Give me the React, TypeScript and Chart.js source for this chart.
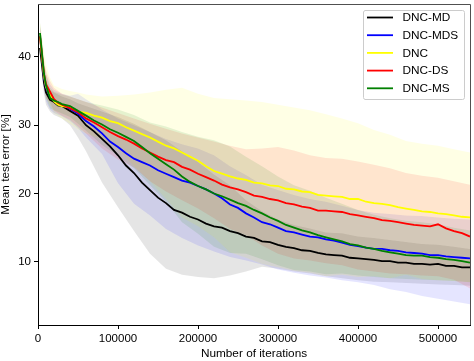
import React, { useEffect, useRef } from "react";
import { Chart, registerables } from "chart.js";

Chart.register(...registerables);

// x positions of the mean curves
const lineIters = [2500, 5000, 7500, 10000, 15000, 20000, 25000,
  30000, 40000, 50000, 60000, 70000, 80000, 90000, 100000, 110000, 120000, 130000, 140000,
  150000, 160000, 170000, 180000, 190000, 200000, 210000, 220000, 230000, 240000, 250000, 260000,
  270000, 280000, 290000, 300000, 310000, 320000, 330000, 340000, 350000, 360000, 370000, 380000,
  390000, 400000, 410000, 420000, 430000, 440000, 450000, 460000, 470000, 480000, 490000, 500000,
  510000, 520000, 530000, 540000];

// x positions of the shaded bands
const bandIters = [2500, 5000, 7500, 10000, 15000, 20000, 30000, 40000, 50000, 60000, 80000, 100000, 120000, 140000, 160000, 180000, 200000, 220000, 240000, 260000, 280000, 300000, 320000, 340000, 360000, 380000, 400000, 420000, 440000, 460000, 480000, 500000, 520000, 540000];

const xTicks = [0, 100000, 200000, 300000, 400000, 500000];
const yTicks = [10, 20, 30, 40];

const seriesNames = ["DNC-MD", "DNC-MDS", "DNC", "DNC-DS", "DNC-MS"];

// mean test error curves
const mdMean = [41.3, 38.8, 36.2, 34.8, 33.7, 33.4, 32.9,
  32.8, 32.1, 31.4, 30.0, 29.1, 28.0, 26.9, 25.6, 24.1, 23.0, 21.6, 20.5, 19.4, 18.6, 17.6, 17.2,
  16.6, 16.2, 15.6, 15.2, 15.0, 14.5, 14.2, 13.7, 13.5, 13.0, 12.9, 12.5, 12.2, 12.0, 11.7, 11.6,
  11.3, 11.1, 11.0, 10.9, 10.6, 10.5, 10.4, 10.3, 10.1, 10.1, 9.9, 9.9, 9.7, 9.7, 9.6, 9.7, 9.4, 9.4, 9.2, 9.2];
const mdsMean = [43.0, 40.0, 37.0, 35.5, 34.2, 33.6, 33.3,
  33.0, 32.4, 31.7, 30.6, 29.8, 28.8, 27.6, 26.8, 25.9, 25.1, 24.6, 24.1, 23.4, 22.9, 22.4, 21.9,
  21.6, 21.1, 20.6, 20.0, 19.3, 18.4, 17.9, 17.1, 16.5, 15.8, 15.5, 15.0, 14.5, 14.3, 14.0, 13.7,
  13.6, 13.3, 13.1, 12.8, 12.5, 12.3, 12.1, 11.9, 11.9, 11.7, 11.6, 11.4, 11.3, 11.2, 11.0, 11.0, 10.8, 10.7, 10.6, 10.5];
const dncMean = [43.0, 40.0, 37.2, 35.6, 34.4, 33.5, 33.0,
  32.8, 32.6, 32.0, 31.8, 31.4, 31.1, 30.6, 30.3, 29.7, 29.2, 28.7, 28.2, 27.6, 27.0, 26.6, 26.0,
  25.4, 24.8, 24.0, 23.3, 22.9, 22.5, 22.2, 22.0, 21.6, 21.5, 21.2, 21.1, 20.7, 20.6, 20.3, 20.2,
  19.8, 19.7, 19.6, 19.5, 19.2, 19.2, 18.8, 18.6, 18.5, 18.3, 18.0, 17.8, 17.6, 17.4, 17.3, 17.1, 17.0, 16.8, 16.6, 16.5];
const dsMean = [43.0, 40.2, 37.5, 36.0, 34.9, 33.8, 33.3,
  33.0, 32.5, 31.9, 31.0, 30.4, 29.7, 29.0, 28.4, 27.9, 27.3, 26.6, 26.0, 25.4, 24.9, 24.6, 23.9,
  23.5, 22.9, 22.4, 21.9, 21.3, 20.9, 20.6, 20.2, 19.7, 19.5, 19.2, 19.0, 18.6, 18.4, 18.1, 17.9,
  17.5, 17.5, 17.4, 17.3, 17.0, 16.8, 16.6, 16.4, 16.1, 16.0, 15.8, 15.6, 15.4, 15.3, 15.2, 15.5, 14.9, 14.5, 14.2, 13.7];
const msMean = [43.5, 40.5, 37.5, 35.8, 34.0, 33.6, 33.4,
  33.1, 32.8, 32.1, 31.4, 30.7, 30.1, 29.4, 28.9, 28.3, 27.7, 26.8, 25.9, 25.1, 24.3, 23.5, 22.5,
  21.7, 21.1, 20.6, 20.0, 19.6, 19.1, 18.6, 18.2, 17.6, 17.1, 16.5, 16.0, 15.4, 15.0, 14.6, 14.3,
  13.9, 13.6, 13.3, 13.0, 12.6, 12.4, 12.1, 11.9, 11.6, 11.4, 11.2, 11.0, 10.9, 10.9, 10.7, 10.6, 10.4, 10.3, 10.1, 9.9];

// shaded bands (lower / upper)
const mdLow = [40.5, 37.0, 34.5, 33.0, 32.0, 31.5, 31.0, 30.0, 28.2, 26.2, 21.6, 18.0, 14.5, 11.2, 9.0, 8.1, 7.8, 7.6, 8.0, 8.6, 9.3, 9.0, 8.6, 8.3, 7.9, 7.6, 7.3, 7.1, 7.0, 6.9, 6.8, 6.7, 6.6, 6.5];
const mdHigh = [43.0, 40.5, 38.0, 36.5, 35.2, 34.8, 34.2, 33.8, 33.2, 32.8, 32.0, 31.2, 30.2, 29.0, 27.8, 26.2, 24.6, 22.8, 21.2, 19.0, 17.4, 16.2, 15.4, 14.9, 14.3, 14.2, 13.7, 13.5, 13.2, 12.9, 12.6, 12.5, 12.2, 11.9];
const mdsLow = [41.0, 37.5, 35.0, 33.5, 32.3, 31.8, 31.3, 30.6, 29.6, 28.2, 25.8, 21.5, 18.5, 16.8, 14.8, 13.5, 12.4, 11.5, 10.7, 10.2, 9.6, 8.9, 8.4, 8.0, 7.7, 7.3, 7.0, 6.6, 6.0, 5.6, 5.0, 4.6, 4.2, 3.8];
const mdsHigh = [44.5, 42.0, 39.0, 37.5, 36.0, 35.2, 34.6, 34.3, 34.6, 33.8, 32.3, 31.0, 30.0, 29.0, 28.0, 27.2, 26.6, 25.6, 24.0, 22.7, 21.3, 20.5, 19.8, 19.2, 18.8, 18.2, 17.6, 17.2, 17.0, 16.8, 16.7, 16.5, 16.3, 16.2];
const dncLow = [41.5, 38.5, 35.5, 34.0, 32.8, 31.8, 31.0, 30.2, 29.4, 28.8, 28.0, 26.5, 24.0, 21.8, 19.2, 16.5, 15.2, 13.6, 11.4, 10.6, 9.7, 9.2, 8.7, 8.4, 7.9, 8.1, 7.8, 7.9, 7.6, 8.1, 7.5, 7.3, 7.2, 7.0];
const dncHigh = [45.0, 43.0, 41.0, 39.0, 37.0, 35.8, 35.3, 35.0, 34.8, 34.5, 34.2, 34.3, 34.5, 34.8, 35.2, 35.5, 34.6, 34.0, 33.8, 33.6, 33.4, 33.0, 32.6, 32.2, 31.6, 31.0, 30.3, 29.3, 28.6, 27.7, 27.3, 27.0, 26.5, 26.0];
const dsLow = [41.5, 38.5, 35.5, 34.0, 33.3, 32.1, 31.4, 30.8, 29.8, 28.8, 26.6, 25.0, 23.8, 21.8, 20.3, 19.0, 17.8, 16.4, 14.8, 13.9, 12.4, 11.2, 10.5, 10.2, 9.8, 9.5, 8.9, 8.6, 8.3, 8.2, 8.0, 7.9, 7.4, 6.1];
const dsHigh = [44.5, 42.0, 39.5, 38.0, 36.5, 35.5, 34.6, 34.2, 33.8, 33.4, 32.6, 31.8, 31.0, 30.2, 29.5, 28.8, 28.2, 27.6, 27.0, 26.5, 26.6, 26.8, 26.3, 25.6, 25.2, 25.1, 24.7, 24.2, 23.7, 23.0, 22.6, 22.3, 21.8, 21.3];
const msLow = [42.0, 38.5, 35.5, 34.0, 32.5, 32.2, 31.7, 31.2, 30.2, 29.2, 27.1, 25.5, 23.7, 21.2, 18.8, 15.8, 14.1, 12.2, 11.3, 11.2, 10.4, 9.5, 8.8, 8.6, 8.2, 8.3, 8.0, 7.8, 7.6, 7.5, 7.4, 7.3, 7.2, 7.0];
const msHigh = [45.0, 42.5, 39.5, 37.5, 35.5, 34.9, 34.5, 34.2, 33.8, 33.4, 32.9, 32.3, 31.5, 30.4, 29.8, 29.0, 28.3, 27.8, 26.9, 25.4, 24.0, 22.5, 21.2, 20.4, 19.4, 18.5, 17.6, 16.9, 16.4, 16.0, 15.8, 15.5, 15.0, 14.6];

const means = [mdMean, mdsMean, dncMean, dsMean, msMean];
const lows = [mdLow, mdsLow, dncLow, dsLow, msLow];
const highs = [mdHigh, mdsHigh, dncHigh, dsHigh, msHigh];
const lineColors = ["#000000", "#0000ff", "#ffff00", "#ff0000", "#008000"];
const bandColors = ["rgba(0,0,0,0.1)", "rgba(0,0,255,0.1)", "rgba(255,255,0,0.1)", "rgba(255,0,0,0.1)", "rgba(0,128,0,0.1)"];

const FONT = "'Liberation Sans', Arial, Helvetica, sans-serif";

const toPts = (xs: number[], arr: number[]) => xs.map((x, i) => ({ x, y: arr[i] }));

const decorPlugin = {
  id: "decor",
  afterDraw(chart: any) {
    const { ctx, chartArea: a } = chart;
    ctx.save();
    // top and right spines
    ctx.strokeStyle = "#505050";
    ctx.lineWidth = 1;
    ctx.beginPath();
    ctx.moveTo(a.left, a.top + 0.5);
    ctx.lineTo(a.right + 0.5, a.top + 0.5);
    ctx.lineTo(a.right + 0.5, a.bottom);
    ctx.stroke();

    // legend
    const lines = chart.data.datasets.filter((d: any) => d.isLine);
    const bx = a.right - 107;
    const by = a.top + 6;
    const bw = 101;
    const bh = 89;
    ctx.fillStyle = "rgba(255,255,255,0.8)";
    ctx.strokeStyle = "#cccccc";
    ctx.lineWidth = 1;
    ctx.beginPath();
    const r = 2;
    ctx.moveTo(bx + r, by + 0.5);
    ctx.lineTo(bx + bw - r, by + 0.5);
    ctx.arcTo(bx + bw + 0.5, by + 0.5, bx + bw + 0.5, by + r, r);
    ctx.lineTo(bx + bw + 0.5, by + bh - r);
    ctx.arcTo(bx + bw + 0.5, by + bh + 0.5, bx + bw - r, by + bh + 0.5, r);
    ctx.lineTo(bx + r, by + bh + 0.5);
    ctx.arcTo(bx + 0.5, by + bh + 0.5, bx + 0.5, by + bh - r, r);
    ctx.lineTo(bx + 0.5, by + r);
    ctx.arcTo(bx + 0.5, by + 0.5, bx + r, by + 0.5, r);
    ctx.closePath();
    ctx.fill();
    ctx.stroke();
    ctx.font = `11.8px ${FONT}`;
    ctx.textBaseline = "middle";
    ctx.textAlign = "left";
    lines.forEach((d: any, i: number) => {
      const y = by + 7.5 + i * 17.7;
      ctx.strokeStyle = d.borderColor;
      ctx.lineWidth = 1.8;
      ctx.beginPath();
      ctx.moveTo(bx + 4, y);
      ctx.lineTo(bx + 30, y);
      ctx.stroke();
      ctx.fillStyle = "#000";
      ctx.fillText(d.label, bx + 39.5, y + 0.5);
    });
    ctx.restore();
  },
};

export default function App() {
  const ref = useRef<HTMLCanvasElement | null>(null);
  useEffect(() => {
    if (!ref.current) return;
    const datasets: any[] = [];
    seriesNames.forEach((name, s) => {
      datasets.push({
        label: name + " upper",
        data: toPts(bandIters, highs[s]),
        borderWidth: 0,
        pointRadius: 0,
        backgroundColor: bandColors[s],
        fill: "+1",
        order: 20 - s * 2,
      });
      datasets.push({
        label: name + " lower",
        data: toPts(bandIters, lows[s]),
        borderWidth: 0,
        pointRadius: 0,
        fill: false,
        order: 19 - s * 2,
      });
    });
    seriesNames.forEach((name, s) => {
      datasets.push({
        label: name,
        isLine: true,
        data: toPts(lineIters, means[s]),
        borderColor: lineColors[s],
        borderWidth: 1.8,
        pointRadius: 0,
        fill: false,
        tension: 0,
        order: 5 - s,
      });
    });

    const chart = new Chart(ref.current, {
      type: "line",
      data: { datasets },
      options: {
        animation: false,
        responsive: true,
        maintainAspectRatio: false,
        layout: { padding: { top: 4, right: 4, left: 0, bottom: 0 } },
        plugins: { legend: { display: false }, tooltip: { enabled: false } },
        scales: {
          x: {
            type: "linear",
            min: 0,
            max: 540000,
            afterFit: (sc: any) => { sc.height = 36; sc.paddingLeft = 0; sc.paddingRight = 0; },
            afterBuildTicks: (sc: any) => { sc.ticks = xTicks.map((v) => ({ value: v })); },
            ticks: {
              color: "#000",
              font: { family: FONT, size: 11.5 },
              padding: 3,
              maxRotation: 0,
              autoSkip: false,
              callback: (v: any) => String(v),
            },
            grid: { drawOnChartArea: false, drawTicks: true, tickLength: 4, tickColor: "#000" },
            border: { display: true, color: "#000", width: 1 },
            title: {
              display: true,
              text: "Number of iterations",
              color: "#000",
              font: { family: FONT, size: 11.8, lineHeight: 1.2 },
              padding: { top: 0, bottom: 0 },
            },
          },
          y: {
            type: "linear",
            min: 0.76,
            max: 47.74,
            afterFit: (sc: any) => { sc.width = 38; sc.paddingTop = 0; sc.paddingBottom = 0; },
            afterBuildTicks: (sc: any) => { sc.ticks = yTicks.map((v) => ({ value: v })); },
            ticks: {
              color: "#000",
              font: { family: FONT, size: 11.5 },
              padding: 3,
              autoSkip: false,
              callback: (v: any) => String(v),
            },
            grid: { drawOnChartArea: false, drawTicks: true, tickLength: 4, tickColor: "#000" },
            border: { display: true, color: "#000", width: 1 },
            title: {
              display: true,
              text: "Mean test error [%]",
              color: "#000",
              font: { family: FONT, size: 11.8, lineHeight: 1.0 },
              padding: { top: 0, bottom: 0 },
            },
          },
        },
      },
      plugins: [decorPlugin],
    } as any);
    return () => chart.destroy();
  }, []);

  return (
    <div style={{ position: "fixed", left: 0, top: 0, width: 474, height: 361 }}>
      <canvas ref={ref} />
    </div>
  );
}
